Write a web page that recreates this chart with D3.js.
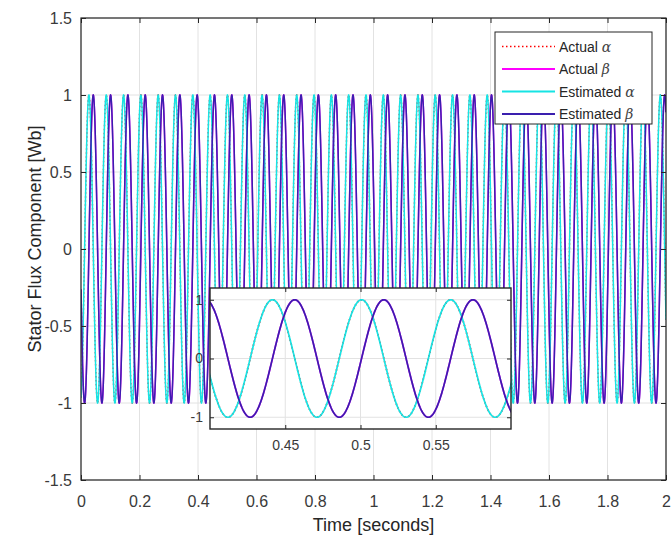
<!DOCTYPE html>
<html>
<head>
<meta charset="utf-8">
<script src="https://cdn.jsdelivr.net/npm/d3@7"></script>
<style>
  html, body { margin: 0; padding: 0; background: #fff; }
  svg { display: block; font-family: "Liberation Sans", Arial, Helvetica, sans-serif; }
</style>
</head>
<body>
<svg id="chart" width="672" height="538"></svg>
<script>
// Axis ranges and tick labels
const xDomain = [0, 2];
const yDomain = [-1.5, 1.5];
const xTicks = [0, 0.2, 0.4, 0.6, 0.8, 1, 1.2, 1.4, 1.6, 1.8, 2];
const yTicks = [-1.5, -1, -0.5, 0, 0.5, 1, 1.5];
const zoomXDomain = [0.4, 0.6];
const zoomYDomain = [-1.2, 1.2];
const zoomXTicks = [0.45, 0.5, 0.55];
const zoomYTicks = [-1, 0, 1];

// Stator flux signal parameters (per series): amplitude [Wb],
// electrical period [s], time of a positive peak [s]
const seriesNames = ["Actual α", "Actual β", "Estimated α", "Estimated β"];
const amplitudes = [1, 1, 1, 1];
const periods = [0.0592, 0.0592, 0.0592, 0.0592];
const peakTimes = [0.4415, 0.4563, 0.4415, 0.4563];
const sampleStep = 0.0004; // simulation step [s]

const colors = ["#ff0000", "#ff00ff", "#16e4e4", "#3a1fae"];
const dashes = ["1.5,2.5", null, null, null];
const widths = [1.4, 1.5, 1.5, 1.5];

// Sampled waveforms of the flux components
function sampleSeries(i, t0, t1) {
  const pts = [];
  const n = Math.round((t1 - t0) / sampleStep);
  for (let k = 0; k <= n; k++) {
    const t = t0 + k * sampleStep;
    pts.push([t, amplitudes[i] * Math.cos(2 * Math.PI * (t - peakTimes[i]) / periods[i])]);
  }
  return pts;
}

const svg = d3.select("#chart");
const axisColor = "#262626";
const labelColor = "#3a3a3a";
const gridColor = "#e2e2e2";
const tickFmt = d => String(d);

// ---------- main axes ----------
const M = { left: 81, right: 666, top: 18, bottom: 480 };
const x = d3.scaleLinear().domain(xDomain).range([M.left, M.right]);
const y = d3.scaleLinear().domain(yDomain).range([M.bottom, M.top]);

svg.append("rect").attr("x", M.left).attr("y", M.top)
  .attr("width", M.right - M.left).attr("height", M.bottom - M.top).attr("fill", "#fff");

const grid = svg.append("g");
grid.selectAll("line.gx").data(xTicks).join("line")
  .attr("x1", d => x(d)).attr("x2", d => x(d)).attr("y1", M.top).attr("y2", M.bottom)
  .attr("stroke", gridColor).attr("stroke-width", 1);
grid.selectAll("line.gy").data(yTicks).join("line")
  .attr("y1", d => y(d)).attr("y2", d => y(d)).attr("x1", M.left).attr("x2", M.right)
  .attr("stroke", gridColor).attr("stroke-width", 1);

svg.append("clipPath").attr("id", "mainClip").append("rect")
  .attr("x", M.left).attr("y", M.top).attr("width", M.right - M.left).attr("height", M.bottom - M.top);

const line = d3.line().x(d => x(d[0])).y(d => y(d[1]));
const plot = svg.append("g").attr("clip-path", "url(#mainClip)");
seriesNames.forEach((name, i) => {
  plot.append("path").datum(sampleSeries(i, xDomain[0], xDomain[1]))
    .attr("d", line).attr("fill", "none")
    .attr("stroke", colors[i]).attr("stroke-width", widths[i])
    .attr("stroke-dasharray", dashes[i]);
});

function styleAxis(g, fs) {
  g.select(".domain").remove();
  g.selectAll(".tick line").attr("stroke", axisColor);
  g.selectAll(".tick text").attr("font-size", fs).attr("fill", labelColor);
}

svg.append("g").attr("transform", `translate(0,${M.bottom})`)
  .call(d3.axisBottom(x).tickValues(xTicks).tickFormat(tickFmt).tickSizeInner(-5).tickSizeOuter(0).tickPadding(16))
  .call(g => styleAxis(g, 16));
svg.append("g").attr("transform", `translate(0,${M.top})`)
  .call(d3.axisTop(x).tickValues(xTicks).tickFormat("").tickSizeInner(-5).tickSizeOuter(0))
  .call(g => styleAxis(g, 16));
svg.append("g").attr("transform", `translate(${M.left},0)`)
  .call(d3.axisLeft(y).tickValues(yTicks).tickFormat(tickFmt).tickSizeInner(-5).tickSizeOuter(0).tickPadding(9))
  .call(g => styleAxis(g, 16));
svg.append("g").attr("transform", `translate(${M.right},0)`)
  .call(d3.axisRight(y).tickValues(yTicks).tickFormat("").tickSizeInner(-5).tickSizeOuter(0))
  .call(g => styleAxis(g, 16));

svg.append("rect").attr("x", M.left).attr("y", M.top)
  .attr("width", M.right - M.left).attr("height", M.bottom - M.top)
  .attr("fill", "none").attr("stroke", axisColor).attr("stroke-width", 1.2);

svg.append("text").attr("x", (M.left + M.right) / 2).attr("y", 531)
  .attr("text-anchor", "middle").attr("font-size", 18).attr("fill", "#262626")
  .text("Time [seconds]");
svg.append("text").attr("transform", `translate(41,${(M.top + M.bottom) / 2 - 10}) rotate(-90)`)
  .attr("text-anchor", "middle").attr("font-size", 18).attr("fill", "#262626")
  .text("Stator Flux Component [Wb]");

// ---------- legend ----------
const L = { x: 495, y: 32, w: 157, h: 92 };
const leg = svg.append("g");
leg.append("rect").attr("x", L.x).attr("y", L.y).attr("width", L.w).attr("height", L.h)
  .attr("fill", "#fff").attr("stroke", axisColor).attr("stroke-width", 1);
seriesNames.forEach((name, i) => {
  const cy = L.y + 14.5 + i * 22.5;
  leg.append("line").attr("x1", L.x + 7).attr("x2", L.x + 60).attr("y1", cy).attr("y2", cy)
    .attr("stroke", colors[i]).attr("stroke-width", i === 0 ? 1.6 : 2)
    .attr("stroke-dasharray", dashes[i]);
  const parts = name.split(" ");
  const t = leg.append("text").attr("x", L.x + 64).attr("y", cy + 5)
    .attr("font-size", 14).attr("fill", "#262626");
  t.append("tspan").text(parts[0] + " ");
  t.append("tspan").attr("font-family", "'DejaVu Serif', 'Liberation Serif', serif")
    .attr("font-style", "italic").attr("font-size", 14).attr("fill", "#444").text(parts[1]);
});

// ---------- zoomed inset ----------
const Z = { left: 210, right: 511, top: 288, bottom: 429 };
const zx = d3.scaleLinear().domain(zoomXDomain).range([Z.left, Z.right]);
const zy = d3.scaleLinear().domain(zoomYDomain).range([Z.bottom, Z.top]);

svg.append("rect").attr("x", Z.left).attr("y", Z.top)
  .attr("width", Z.right - Z.left).attr("height", Z.bottom - Z.top).attr("fill", "#fff");
const zgrid = svg.append("g");
zgrid.selectAll("line.gx").data(zoomXTicks).join("line")
  .attr("x1", d => zx(d)).attr("x2", d => zx(d)).attr("y1", Z.top).attr("y2", Z.bottom)
  .attr("stroke", gridColor).attr("stroke-width", 1);
zgrid.selectAll("line.gy").data(zoomYTicks).join("line")
  .attr("y1", d => zy(d)).attr("y2", d => zy(d)).attr("x1", Z.left).attr("x2", Z.right)
  .attr("stroke", gridColor).attr("stroke-width", 1);

svg.append("clipPath").attr("id", "zoomClip").append("rect")
  .attr("x", Z.left).attr("y", Z.top).attr("width", Z.right - Z.left).attr("height", Z.bottom - Z.top);
const zline = d3.line().x(d => zx(d[0])).y(d => zy(d[1]));
const zplot = svg.append("g").attr("clip-path", "url(#zoomClip)");
seriesNames.forEach((name, i) => {
  zplot.append("path").datum(sampleSeries(i, zoomXDomain[0] - 0.002, zoomXDomain[1] + 0.002))
    .attr("d", zline).attr("fill", "none")
    .attr("stroke", colors[i]).attr("stroke-width", 1.7)
    .attr("stroke-dasharray", dashes[i]);
});

svg.append("g").attr("transform", `translate(0,${Z.bottom})`)
  .call(d3.axisBottom(zx).tickValues(zoomXTicks).tickFormat(tickFmt).tickSizeInner(-4).tickSizeOuter(0).tickPadding(11))
  .call(g => styleAxis(g, 14));
svg.append("g").attr("transform", `translate(0,${Z.top})`)
  .call(d3.axisTop(zx).tickValues(zoomXTicks).tickFormat("").tickSizeInner(-4).tickSizeOuter(0))
  .call(g => styleAxis(g, 14));
svg.append("g").attr("transform", `translate(${Z.left},0)`)
  .call(d3.axisLeft(zy).tickValues(zoomYTicks).tickFormat(tickFmt).tickSizeInner(-4).tickSizeOuter(0).tickPadding(7))
  .call(g => styleAxis(g, 14));
svg.append("g").attr("transform", `translate(${Z.right},0)`)
  .call(d3.axisRight(zy).tickValues(zoomYTicks).tickFormat("").tickSizeInner(-4).tickSizeOuter(0))
  .call(g => styleAxis(g, 14));
svg.append("rect").attr("x", Z.left).attr("y", Z.top)
  .attr("width", Z.right - Z.left).attr("height", Z.bottom - Z.top)
  .attr("fill", "none").attr("stroke", axisColor).attr("stroke-width", 1.4);
</script>
</body>
</html>
